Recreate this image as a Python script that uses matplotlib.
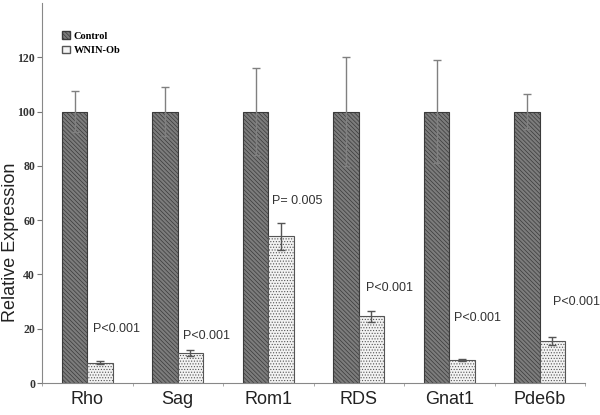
import numpy as np
import matplotlib.pyplot as plt
from matplotlib.patches import Patch

genes = ["Rho", "Sag", "Rom1", "RDS", "Gnat1", "Pde6b"]
control = [100, 100, 100, 100, 100, 100]
control_err = [7.5, 9, 16, 20, 19, 6.6]
wnin = [7.5, 11, 54, 24.6, 8.5, 15.4]
wnin_err = [0.5, 1, 5, 2, 0.5, 1.5]
p_labels = ["P<0.001", "P<0.001", "P= 0.005", "P<0.001", "P<0.001", "P<0.001"]
p_y = [20, 17.5, 67, 35, 24, 30]
p_dx = [0.06, 0.06, 0.04, 0.08, 0.05, 0.15]

plt.rcParams["hatch.linewidth"] = 0.5
fig = plt.figure(figsize=(6, 4.15), dpi=100)
ax = fig.add_axes([0.07, 0.077, 0.905, 0.916])

x = np.arange(len(genes))
w = 0.28
ctrl_hatch = "\\" * 8
ax.bar(x - w / 2, control, w, color="#7c7c7c", edgecolor="#3a3a3a", hatch=ctrl_hatch,
       linewidth=0.8, label="Control")
ax.bar(x + w / 2, wnin, w, color="#f2f2f2", edgecolor="#555555", hatch="......",
       linewidth=0.8, label="WNIN-Ob")
# error bars drawn separately so hatch colours stay on the bars
ax.errorbar(x - w / 2, control, yerr=control_err, fmt="none", ecolor="#808080",
            elinewidth=1, capsize=3, capthick=1)
ax.errorbar(x + w / 2, wnin, yerr=wnin_err, fmt="none", ecolor="#555555",
            elinewidth=1, capsize=3, capthick=1)

for i, (lab, yy) in enumerate(zip(p_labels, p_y)):
    ax.text(i + p_dx[i], yy, lab, fontsize=9, color="#333333",
            family="Liberation Sans", ha="left", va="center")

ax.set_xlim(-0.5, 5.5)
ax.set_ylim(0, 140)
ax.set_yticks([0, 20, 40, 60, 80, 100, 120])
ax.set_xticks(x)
ax.set_xticklabels(genes, fontsize=13, family="Liberation Sans", color="#222222")
ax.set_xticks(np.arange(-0.5, 6, 1), minor=True)
ax.tick_params(axis="x", which="major", length=0, pad=6)
ax.tick_params(axis="x", which="minor", length=2, color="#999999")
ax.tick_params(axis="y", length=3.5, color="#777777", labelsize=8.5, pad=1.5)
for t in ax.get_yticklabels():
    t.set_family("Liberation Serif")
    t.set_fontweight("bold")
    t.set_color("#333333")
ax.set_ylabel("Relative Expression", fontsize=13, family="Liberation Sans",
              color="#222222")
ax.yaxis.set_label_coords(-0.043, 0.37)

for s in ["top", "right"]:
    ax.spines[s].set_visible(False)
ax.spines["left"].set_color("#888888")
ax.spines["bottom"].set_color("#888888")

handles = [Patch(facecolor="#7c7c7c", edgecolor="#3a3a3a", hatch=ctrl_hatch, label="Control"),
           Patch(facecolor="#f4f4f4", edgecolor="#555555", label="WNIN-Ob")]
ax.legend(handles=handles, loc="upper left", bbox_to_anchor=(0.02, 0.95), frameon=False,
          prop={"family": "Liberation Serif", "weight": "bold", "size": 7.5},
          handlelength=0.7, handleheight=0.7, handletextpad=0.4, labelspacing=0.5)

fig.savefig("out.png", dpi=100)
